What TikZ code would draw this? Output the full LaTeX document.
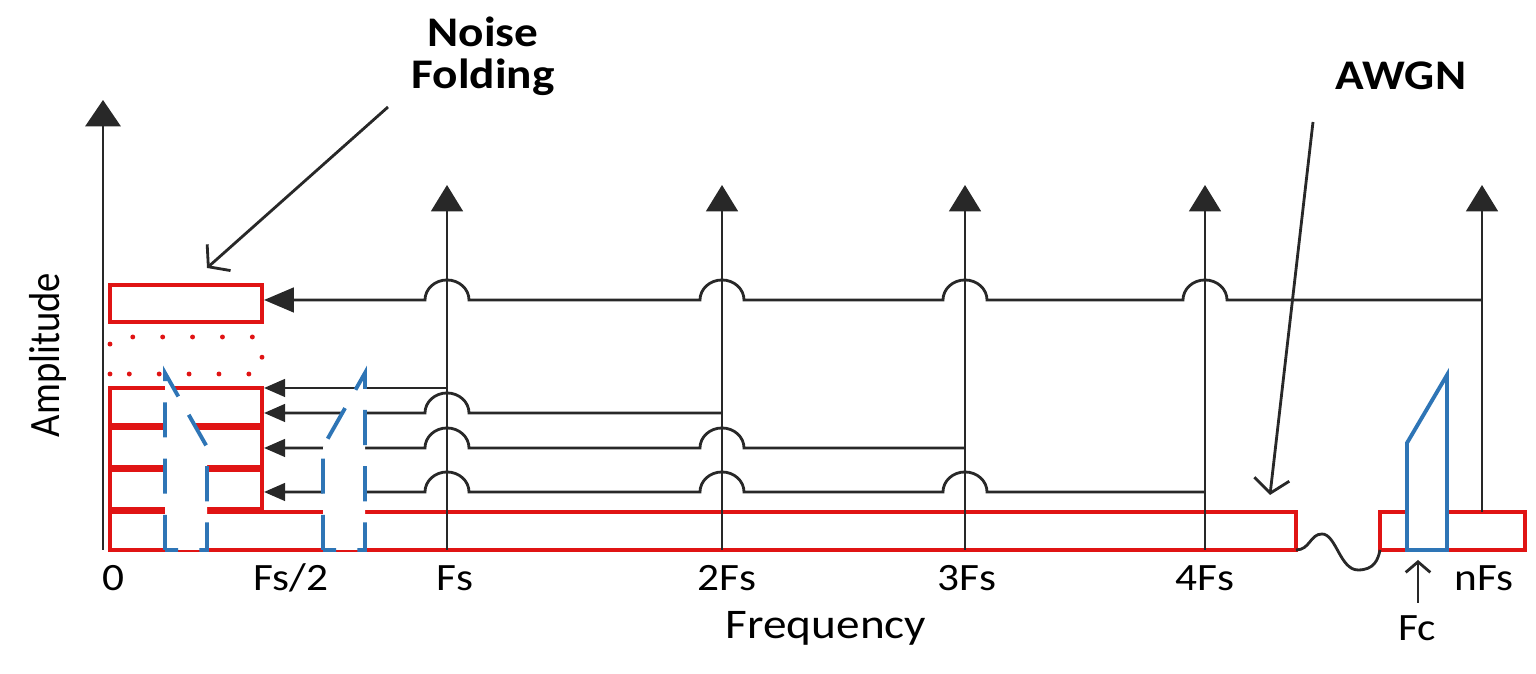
\documentclass[tikz,border=0pt]{standalone}
\usepackage{fontspec}
\setmainfont{Carlito}
\usetikzlibrary{arrows.meta, positioning}
\definecolor{noisered}{RGB}{224,20,20}
\definecolor{sigblue}{RGB}{46,117,182}
\definecolor{wire}{RGB}{40,40,40}

\begin{document}
\begin{tikzpicture}[
          x = 0.01cm, y = 0.01cm,
          axis/.style = {draw=wire, line width=0.8pt, -{Triangle[width=10pt,length=7.5pt]}},
          spike/.style = {draw=wire, line width=0.8pt, -{Triangle[width=9pt,length=7.5pt]}},
          feed/.style = {draw=wire, line width=0.8pt, -{Triangle[width=5pt,length=6pt]}},
          feedtop/.style = {draw=wire, line width=0.8pt, -{Triangle[width=7pt,length=8.5pt]}},
          band/.style = {draw=noisered, line width=1.3pt},
          sep/.style = {draw=noisered, line width=2pt},
          folded/.style = {draw=sigblue, line width=1.1pt, fill=white, dash pattern=on 10pt off 6pt},
          signal/.style = {draw=sigblue, line width=1.1pt, fill=white},
          callout/.style = {draw=wire, line width=0.8pt, -{Straight Barb[length=4pt,width=10pt]}},
          tick/.style = {font=\fontsize{11}{13}\selectfont, xscale=1.12, inner sep=0},
          title/.style = {font=\fontsize{12}{12}\selectfont\bfseries, align=center, xscale=1.12, inner sep=0}
        ]
          \useasboundingbox (0,0) rectangle (1536,674);
          % place points
          \coordinate (o) at (103,124);
          \coordinate (ytop) at (103,574);
          \foreach \n/\xx in {f1/447, f2/722, f3/965, f4/1205}
            { \coordinate (\n) at (\xx,124); \coordinate (\n t) at (\xx,489); } ;
          \coordinate (fn) at (1482,162);
          \coordinate (fnt) at (1482,489);
          \coordinate (in0) at (264,374);
          \coordinate (in1) at (264,286);
          \coordinate (in2) at (264,261);
          \coordinate (in3) at (264,226);
          \coordinate (in4) at (264,182);
          % noise bands
          \draw[band] (110,124) rectangle (1296,162);
          \draw[band] (1380,124) rectangle (1525,162);
          \draw[band] (110,352) rectangle (262,389);
          \draw[noisered, line width=1.4pt, line cap=round, dash pattern=on 0pt off 8.5pt] (110,300) rectangle (262,337);
          \draw[band] (110,286) rectangle (262,165);
          \foreach \yy in {247, 205}
            { \draw[sep] (110,\yy) -- (262,\yy) ; } ;
          % axis and harmonics
          \draw[axis] (o) -- (ytop);
          \foreach \n in {f1, f2, f3, f4}
            { \draw[spike] (\n) -- (\n t) ; } ;
          \draw[spike] (fn) -- (fnt);
          % folded back
          \draw[feedtop] (fn |- in0) \foreach \c in {f4, f3, f2, f1}
            { -- ([xshift=2.2mm]\c |- in0) arc[start angle=0, end angle=180, x radius=2.2mm, y radius=2mm] } -- (in0);
          \draw[feed] (f1 |- in1) -- (in1);
          \draw[feed] (f2 |- in2) \foreach \c in {f1}
            { -- ([xshift=2.2mm]\c |- in2) arc[start angle=0, end angle=180, x radius=2.2mm, y radius=2mm] } -- (in2);
          \draw[feed] (f3 |- in3) \foreach \c in {f2, f1}
            { -- ([xshift=2.2mm]\c |- in3) arc[start angle=0, end angle=180, x radius=2.2mm, y radius=2mm] } -- (in3);
          \draw[feed] (f4 |- in4) \foreach \c in {f3, f2, f1}
            { -- ([xshift=2.2mm]\c |- in4) arc[start angle=0, end angle=180, x radius=2.2mm, y radius=2mm] } -- (in4);
          % signal and its images
          \draw[folded] (165,124) -- (165,301) -- (207,227) -- (207,124) -- cycle;
          \draw[folded] (323,124) -- (323,227) -- (365,301) -- (365,124) -- cycle;
          \draw[signal] (1407,124) -- (1407,231) -- (1447,299) -- (1447,124) -- cycle;
          % break in the axis
          \coordinate (brk0) at (1296,124);
          \coordinate (brk1) at (1380,124);
          \draw[wire, line width=0.8pt] (brk0) .. controls (1310,124) and (1310,140) .. (1322,140)
            .. controls (1336,140) and (1340,104) .. (1358,104) .. controls (1374,104) and (1378,114) .. (brk1);
          % labels
          \node[tick] (l0) at (113,96) {0};
          \node[tick] (lhalf) at (291,96) {Fs/2};
          \node[tick] (l1) at (455,96) {Fs};
          \node[tick] (l2) at (727,96) {2Fs};
          \node[tick] (l3) at (967,96) {3Fs};
          \node[tick] (l4) at (1205,96) {4Fs};
          \node[tick] (ln) at (1484,96) {nFs};
          \node[tick] (lc) at (1417,46) {Fc};
          \node[tick, font=\fontsize{12}{14}\selectfont] (freq) at (826,46) {Frequency};
          \node[tick, rotate=90, xscale=1] (amp) at (48,319) {Amplitude};
          \node[title] (nf) at (483,618) {Noise\\Folding};
          \node[title] (awgn) at (1401,598) {AWGN};
          % callouts
          \coordinate (nftail) at (388,567);
          \coordinate (nfhead) at (207,406);
          \coordinate (awtail) at (1313,552);
          \coordinate (awhead) at (1270,179);
          \coordinate (fctail) at (1418,71);
          \coordinate (fchead) at (1418,114);
          \draw[callout] (nftail) -- (nfhead);
          \draw[callout] (awtail) -- (awhead);
          \draw[callout, -{Straight Barb[length=3pt,width=7pt]}] (fctail) -- (fchead);
        \end{tikzpicture}
\end{document}
